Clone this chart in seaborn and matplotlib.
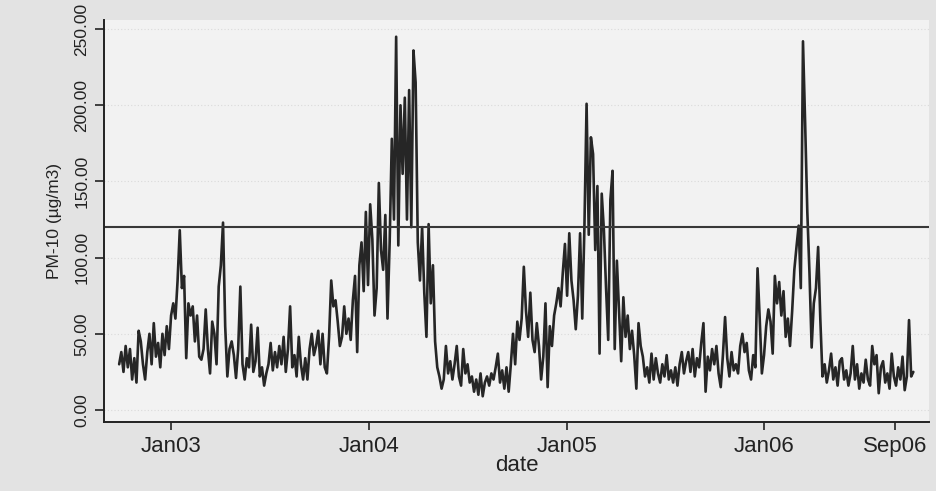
import pandas as pd
import matplotlib.pyplot as plt
from matplotlib.ticker import FormatStrFormatter
import seaborn as sns

# daily PM-10, one value every 4 days (starts 2002-09-27)
pm10_fall02 = [30, 38, 25, 42, 28, 40, 20, 34, 18, 52, 45, 30, 20, 38, 50, 30, 57, 35, 44, 28, 50, 36, 55, 40]
pm10_winter03 = [62, 70, 60, 85, 118, 80, 88, 34, 70, 62, 68, 45, 62, 35, 33, 40, 66, 40, 24, 58, 50]
pm10_summer03 = [30, 81, 95, 123, 55, 22, 40, 45, 36, 21, 40, 81, 30, 20, 34, 28, 56, 25, 32, 54,
                 22, 28, 16, 24, 30, 44, 26, 38, 28, 42, 30, 48, 25, 40, 68, 28, 36, 22, 48, 30,
                 20, 34, 20, 40, 50, 36, 42]
pm10_winter04 = [52, 30, 50, 28, 24, 48, 85, 68, 72, 58, 42, 48, 68, 50, 60, 46, 72, 88, 38, 95,
                 110, 78, 130, 82, 135, 112, 62, 80, 149, 105, 92, 128, 60, 110, 178, 125, 245, 108, 200, 155,
                 205, 125, 210, 120, 236, 215]
pm10_summer04 = [110, 85, 120, 77, 48, 122, 70, 95, 45, 28, 22, 14, 20, 42, 24, 32, 20, 30, 42, 22,
                 16, 40, 24, 30, 18, 22, 12, 20, 10, 24, 9, 18, 22, 16, 24, 20, 28, 37, 18, 26,
                 14, 28, 12, 30, 50]
pm10_winter05 = [30, 58, 46, 60, 94, 65, 48, 77, 46, 38, 57, 42, 20, 35, 70, 15, 55, 42, 62, 70,
                 80, 68, 90, 109, 75, 116, 85, 72, 53, 75, 116, 60, 120, 201, 115, 179, 168, 105, 147, 37,
                 142, 118, 80, 46, 138, 157, 40]
pm10_summer05 = [98, 65, 32, 74, 48, 62, 40, 52, 36, 14, 57, 42, 35, 22, 28, 18, 37, 20, 34, 24,
                 18, 30, 22, 36, 20, 26, 18, 28, 16, 30, 38, 24, 32, 38, 25, 40, 22, 34, 28, 44,
                 57, 12, 35, 26, 40]
pm10_winter06 = [30, 42, 24, 15, 36, 61, 34, 22, 38, 26, 30, 24, 42, 50, 38, 44, 26, 20, 36, 28,
                 93, 60, 24, 36, 55, 66, 58, 37, 88, 70, 84, 62, 78, 48, 60, 42, 65, 92, 107, 121,
                 80, 242, 188, 130, 90, 41, 70, 80]
pm10_summer06 = [107, 60, 22, 30, 18, 26, 37, 20, 28, 16, 32, 34, 20, 26, 16, 24, 42, 20, 30, 14,
                 24, 18, 33, 20, 16, 42, 30, 36, 11, 28, 32, 18, 24, 14, 37, 22, 16, 28, 20, 35,
                 13, 22, 59, 22, 25]

limit_value = 120
tick_dates = ['2003-01-01', '2004-01-01', '2005-01-01', '2006-01-01', '2006-09-01']
tick_labels = ['Jan03', 'Jan04', 'Jan05', 'Jan06', 'Sep06']
y_ticks = [0, 50, 100, 150, 200, 250]

values = (pm10_fall02 + pm10_winter03 + pm10_summer03 + pm10_winter04 + pm10_summer04
          + pm10_winter05 + pm10_summer05 + pm10_winter06 + pm10_summer06)
df = pd.DataFrame({
    'date': pd.date_range('2002-09-27', periods=len(values), freq='4D'),
    'pm10': values,
})

sns.set_theme(style="white")
plt.rcParams['font.family'] = ['Liberation Sans', 'DejaVu Sans']
ink = '#222222'

fig = plt.figure(figsize=(9.37, 4.91), dpi=100, facecolor='#e3e3e3')
ax = fig.add_axes([0.111, 0.1405, 0.8805, 0.8185])
ax.set_facecolor('#f2f2f2')

for y in y_ticks:
    ax.axhline(y, color='#dadada', lw=0.8, ls=(0, (1, 2)), zorder=0)

sns.lineplot(data=df, x='date', y='pm10', color='#262626', lw=1.9, ax=ax)
ax.axhline(limit_value, color='#383838', lw=1.5)

ax.set_xlim(pd.Timestamp('2002-08-30'), pd.Timestamp('2006-11-02'))
ax.set_ylim(-7.9, 255.9)

ax.set_yticks(y_ticks)
ax.yaxis.set_major_formatter(FormatStrFormatter('%.2f'))
ax.set_xticks(pd.to_datetime(tick_dates))
ax.set_xticklabels(tick_labels)

ax.tick_params(axis='y', direction='out', length=6.5, width=1.2, color=ink, labelcolor=ink,
               labelsize=12.5, labelrotation=90, pad=4, left=True)
ax.tick_params(axis='x', direction='out', length=5.8, width=1.2, color=ink, labelcolor=ink,
               labelsize=16, pad=4, bottom=True)
for lab in ax.get_yticklabels():
    lab.set_va('center')

ax.set_xlabel('date', fontsize=16, labelpad=-1, color=ink)
ax.set_ylabel('PM-10 (µg/m3)', fontsize=12.5, labelpad=9, color=ink)

for side in ['top', 'right']:
    ax.spines[side].set_visible(False)
for side in ['left', 'bottom']:
    ax.spines[side].set_color(ink)
    ax.spines[side].set_linewidth(1.4)

fig.savefig('out.png', dpi=100, facecolor=fig.get_facecolor())
